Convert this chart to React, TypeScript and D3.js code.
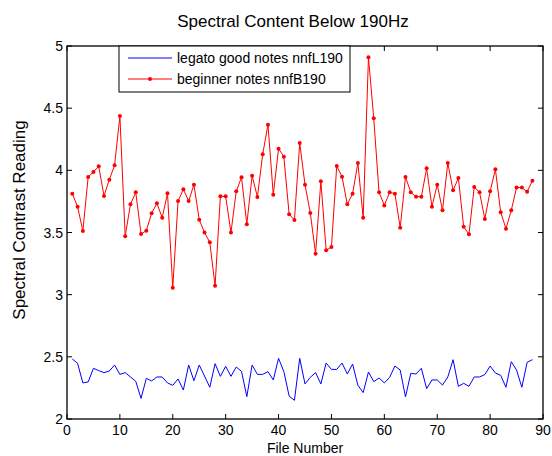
import React from "react";
import * as d3 from "d3";

const fileNumbers = d3.range(1, 89);
const legatoValues = [
  2.483, 2.448, 2.29, 2.298, 2.408, 2.389, 2.373, 2.386, 2.434, 2.359,
  2.373, 2.338, 2.303, 2.166, 2.327, 2.306, 2.338, 2.338, 2.29, 2.271,
  2.322, 2.233, 2.434, 2.308, 2.434, 2.346, 2.255, 2.445, 2.343, 2.424,
  2.343, 2.418, 2.383, 2.18, 2.434, 2.359, 2.359, 2.381, 2.314, 2.488,
  2.381, 2.185, 2.15, 2.488, 2.282, 2.335, 2.373, 2.282, 2.45, 2.399,
  2.399, 2.45, 2.362, 2.442, 2.271, 2.212, 2.378, 2.3, 2.33, 2.29,
  2.335, 2.426, 2.394, 2.177, 2.367, 2.362, 2.408, 2.244, 2.314, 2.314,
  2.273, 2.338, 2.477, 2.263, 2.287, 2.263, 2.338, 2.338, 2.357, 2.426,
  2.37, 2.351, 2.255, 2.461, 2.394, 2.255, 2.456, 2.477,
];
const beginnerValues = [
  3.812, 3.708, 3.512, 3.946, 3.987, 4.032, 3.794, 3.925, 4.04, 4.437,
  3.469, 3.727, 3.823, 3.488, 3.515, 3.654, 3.735, 3.619, 3.815, 3.056,
  3.753, 3.847, 3.753, 3.885, 3.603, 3.499, 3.421, 3.072, 3.791, 3.791,
  3.499, 3.831, 3.944, 3.566, 3.957, 3.786, 4.129, 4.367, 3.804, 4.174,
  4.11, 3.646, 3.601, 4.22, 3.885, 3.657, 3.33, 3.912, 3.357, 3.383,
  4.035, 3.949, 3.727, 3.812, 4.059, 3.619, 4.909, 4.418, 3.823, 3.718,
  3.823, 3.812, 3.539, 3.946, 3.823, 3.788, 3.788, 4.016, 3.708, 3.885,
  3.678, 4.059, 3.839, 3.938, 3.547, 3.485, 3.866, 3.823, 3.609, 3.831,
  4.008, 3.662, 3.531, 3.678, 3.861, 3.861, 3.828, 3.917,
];
const xTicks = [0, 10, 20, 30, 40, 50, 60, 70, 80, 90];
const yTicks = [2, 2.5, 3, 3.5, 4, 4.5, 5];
const seriesNames = ["legato good notes nnfL190", "beginner notes nnfB190"];
const title = "Spectral Content Below 190Hz";
const xLabel = "File Number";
const yLabel = "Spectral Contrast Reading";

export default function App() {
  const W = 552, H = 456;
  const left = 67, right = 543, top = 46, bottom = 419;
  const x = d3.scaleLinear().domain([0, 90]).range([left, right]);
  const y = d3.scaleLinear().domain([2, 5]).range([bottom, top]);
  const line = d3.line<number>().x((_, i) => x(fileNumbers[i])).y((d) => y(d));
  const font = "Liberation Sans, Arial, sans-serif";
  const tl = 5;
  return (
    <svg width={W} height={H} style={{ position: "absolute", left: 0, top: 0, background: "#fff" }}>
      <rect width={W} height={H} fill="#fff" />
      <text x={293} y={27} textAnchor="middle" fontFamily={font} fontSize={17}>{title}</text>
      <path d={line(legatoValues) || ""} fill="none" stroke="#0000ff" strokeWidth={1} />
      <path d={line(beginnerValues) || ""} fill="none" stroke="#ff0000" strokeWidth={1} />
      {beginnerValues.map((v, i) => (
        <circle key={i} cx={x(fileNumbers[i])} cy={y(v)} r={2} fill="#ff0000" />
      ))}
      <rect x={left} y={top} width={right - left} height={bottom - top} fill="none" stroke="#000" strokeWidth={1.3} />
      {xTicks.map((t) => (
        <g key={"x" + t}>
          <line x1={x(t)} x2={x(t)} y1={bottom} y2={bottom - tl} stroke="#000" />
          <line x1={x(t)} x2={x(t)} y1={top} y2={top + tl} stroke="#000" />
          <text x={x(t)} y={bottom + 16} textAnchor="middle" fontFamily={font} fontSize={14}>{t}</text>
        </g>
      ))}
      {yTicks.map((t) => (
        <g key={"y" + t}>
          <line x1={left} x2={left + tl} y1={y(t)} y2={y(t)} stroke="#000" />
          <line x1={right} x2={right - tl} y1={y(t)} y2={y(t)} stroke="#000" />
          <text x={left - 4} y={y(t) + 5} textAnchor="end" fontFamily={font} fontSize={14}>{t}</text>
        </g>
      ))}
      <text x={(left + right) / 2} y={453} textAnchor="middle" fontFamily={font} fontSize={14}>{xLabel}</text>
      <text transform={`translate(25,${220}) rotate(-90)`} textAnchor="middle" fontFamily={font} fontSize={17}>{yLabel}</text>
      <g>
        <rect x={119} y={top} width={231} height={46} fill="#fff" stroke="#000" strokeWidth={1} />
        <line x1={128} x2={172} y1={58} y2={58} stroke="#0000ff" />
        <text x={177} y={63} fontFamily={font} fontSize={14}>{seriesNames[0]}</text>
        <line x1={128} x2={172} y1={79} y2={79} stroke="#ff0000" />
        <circle cx={150} cy={79} r={2} fill="#ff0000" />
        <text x={177} y={84} fontFamily={font} fontSize={14}>{seriesNames[1]}</text>
      </g>
    </svg>
  );
}
